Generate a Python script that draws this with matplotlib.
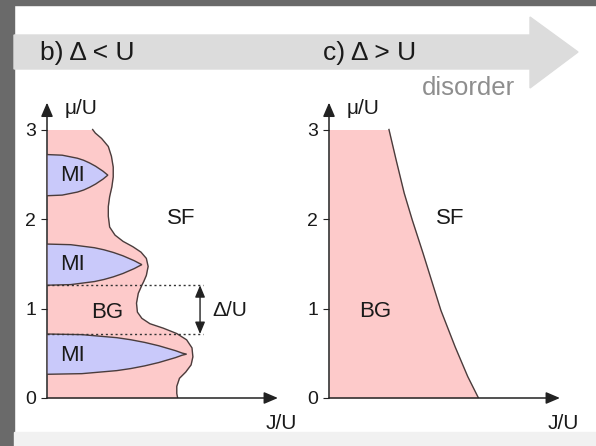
import matplotlib
matplotlib.use("Agg")
import matplotlib.pyplot as plt
from matplotlib.patches import Polygon, Rectangle

plt.rcParams['font.family'] = ['Liberation Sans', 'DejaVu Sans']

# --- data (J/U, mu/U) ---
mu_ticks = [0, 1, 2, 3]

# panel b: outer boundary of the Bose glass region
b_mu = [3.0, 2.96, 2.90, 2.81, 2.70, 2.58, 2.47, 2.36, 2.25, 2.14, 2.03, 1.91,
        1.82, 1.75, 1.69, 1.63, 1.56, 1.47, 1.37, 1.30, 1.26, 1.17, 1.06, 0.96,
        0.89, 0.83, 0.78, 0.72, 0.65, 0.56, 0.46, 0.37, 0.29, 0.22, 0.13, 0.05, 0.0]
b_J = [0.51, 0.54, 0.61, 0.685, 0.72, 0.74, 0.74, 0.725, 0.70, 0.685, 0.685, 0.70,
       0.76, 0.85, 0.96, 1.05, 1.11, 1.13, 1.11, 1.08, 1.06, 1.02, 1.00, 1.01,
       1.06, 1.15, 1.30, 1.45, 1.56, 1.62, 1.63, 1.61, 1.55, 1.48, 1.45, 1.45, 1.46]

# panel b: Mott lobes (J, upper mu, lower mu)
lobe1_J = [0, 0.17, 0.34, 0.41, 0.476, 0.544, 0.578, 0.626, 0.66, 0.68]
lobe1_hi = [2.72, 2.713, 2.679, 2.656, 2.626, 2.589, 2.566, 2.534, 2.506, 2.49]
lobe1_lo = [2.26, 2.267, 2.301, 2.324, 2.354, 2.391, 2.414, 2.446, 2.474, 2.49]
lobe2_J = [0, 0.265, 0.53, 0.636, 0.742, 0.848, 0.901, 0.975, 1.028, 1.06]
lobe2_hi = [1.72, 1.713, 1.679, 1.656, 1.626, 1.589, 1.566, 1.534, 1.506, 1.49]
lobe2_lo = [1.26, 1.267, 1.301, 1.324, 1.354, 1.391, 1.414, 1.446, 1.474, 1.49]
lobe3_J = [0, 0.39, 0.78, 0.936, 1.092, 1.248, 1.326, 1.435, 1.513, 1.56]
lobe3_hi = [0.715, 0.708, 0.674, 0.651, 0.621, 0.584, 0.561, 0.529, 0.501, 0.49]
lobe3_lo = [0.265, 0.272, 0.306, 0.329, 0.359, 0.396, 0.419, 0.451, 0.479, 0.49]
lobes = [(lobe1_J, lobe1_hi, lobe1_lo, 2.49),
         (lobe2_J, lobe2_hi, lobe2_lo, 1.49),
         (lobe3_J, lobe3_hi, lobe3_lo, 0.47)]

gap_mu = [0.715, 1.26]     # the Delta/U gap
gap_J = [0.0, 1.74]

# panel c: boundary BG / SF
c_mu = [3.0, 2.66, 2.29, 1.99, 1.62, 1.30, 0.98, 0.57, 0.24, 0.0]
c_J = [0.67, 0.75, 0.84, 0.93, 1.05, 1.15, 1.25, 1.41, 1.55, 1.67]

pink = '#fdcaca'
blue = '#c9c9fa'
edge = '#4a3c3c'
axc = '#222222'
W, H = 596, 446

fig = plt.figure(figsize=(W / 100, H / 100), dpi=100)
fig.patch.set_facecolor('white')

# frame decoration
fig.patches.append(Rectangle((0, 0), 14 / W, 1, transform=fig.transFigure,
                             color='#6a6a6a', zorder=0))
fig.patches.append(Rectangle((0, 1 - 5 / H), 1, 5 / H, transform=fig.transFigure,
                             color='#6a6a6a', zorder=0))
fig.patches.append(Rectangle((14 / W, 0), 1, 14 / H, transform=fig.transFigure,
                             color='#f1f1f1', zorder=0))

# disorder arrow banner
band = [(14, 35), (530, 35), (530, 17), (578, 52), (530, 88), (530, 69), (14, 69)]
fig.patches.append(Polygon([(x / W, 1 - y / H) for x, y in band], closed=True,
                           transform=fig.transFigure, color='#dcdcdc', zorder=0))
fig.text(40 / W, 1 - 53 / H, 'b) Δ < U', fontsize=19, va='center', color='#1a1a1a')
fig.text(323 / W, 1 - 53 / H, 'c) Δ > U', fontsize=19, va='center', color='#1a1a1a')
fig.text(422 / W, 1 - 88 / H, 'disorder', fontsize=18.5, va='center', color='#8e8e8e')

scale = 89.5
aw, ah = 240, 300


def setup(ax):
    ax.set_xlim(0, aw / scale)
    ax.set_ylim(0, ah / scale)
    ax.patch.set_alpha(0)
    for s in ax.spines.values():
        s.set_visible(False)
    ax.set_xticks([])
    ax.set_yticks(mu_ticks)
    ax.tick_params(axis='y', direction='out', length=4, width=0.8, color=axc,
                   labelsize=14, pad=4, labelcolor='#1a1a1a')
    ap = dict(arrowstyle='-|>,head_length=0.7,head_width=0.3', color=axc,
              lw=1.1, shrinkA=0, shrinkB=0, mutation_scale=12)
    ax.annotate('', xy=(2.58, 0), xytext=(0, 0), arrowprops=ap, annotation_clip=False)
    ax.annotate('', xy=(0, 3.3), xytext=(0, 0), arrowprops=ap, annotation_clip=False)
    ax.text(0.2, 3.23, 'μ/U', fontsize=15, va='center', ha='left', color='#1a1a1a')
    ax.text(2.62, -0.28, 'J/U', fontsize=15, va='center', ha='center', color='#1a1a1a',
            clip_on=False)


# panel b
axb = fig.add_axes([47 / W, 48 / H, aw / W, ah / H])
setup(axb)
axb.fill_betweenx(b_mu, 0, b_J, color=pink, lw=0, zorder=1)
axb.plot(b_J, b_mu, color=edge, lw=1.0, zorder=2)
for lj, hi, lo, mc in lobes:
    xs = list(lj) + list(lj[::-1])
    ys = list(hi) + list(lo[::-1])
    axb.fill(xs, ys, facecolor=blue, edgecolor=edge, lw=1.0, zorder=3)
    axb.text(0.28, mc, 'MI', fontsize=16, ha='center', va='center', color='#1a1a1a',
             zorder=4)
for m in gap_mu:
    axb.plot(gap_J, [m, m], color='#333333', lw=1.0, ls=(0, (1.5, 2)), zorder=4)
axb.annotate('', xy=(1.71, gap_mu[1]), xytext=(1.71, gap_mu[0]),
             arrowprops=dict(arrowstyle='<|-|>,head_length=0.6,head_width=0.25',
                             color='#222222', lw=1.0, shrinkA=0, shrinkB=0,
                             mutation_scale=12))
axb.text(1.85, 0.98, 'Δ/U', fontsize=15, va='center', ha='left', color='#1a1a1a')
axb.text(0.67, 0.96, 'BG', fontsize=16, ha='center', va='center', color='#1a1a1a')
axb.text(1.5, 2.01, 'SF', fontsize=16, ha='center', va='center', color='#1a1a1a')

# panel c
axc_ = fig.add_axes([329 / W, 48 / H, aw / W, ah / H])
setup(axc_)
axc_.fill_betweenx(c_mu, 0, c_J, color=pink, lw=0, zorder=1)
axc_.plot(c_J, c_mu, color=edge, lw=1.0, zorder=2)
axc_.text(0.52, 0.97, 'BG', fontsize=16, ha='center', va='center', color='#1a1a1a')
axc_.text(1.35, 2.0, 'SF', fontsize=16, ha='center', va='center', color='#1a1a1a')

fig.savefig('out.png', dpi=100)
